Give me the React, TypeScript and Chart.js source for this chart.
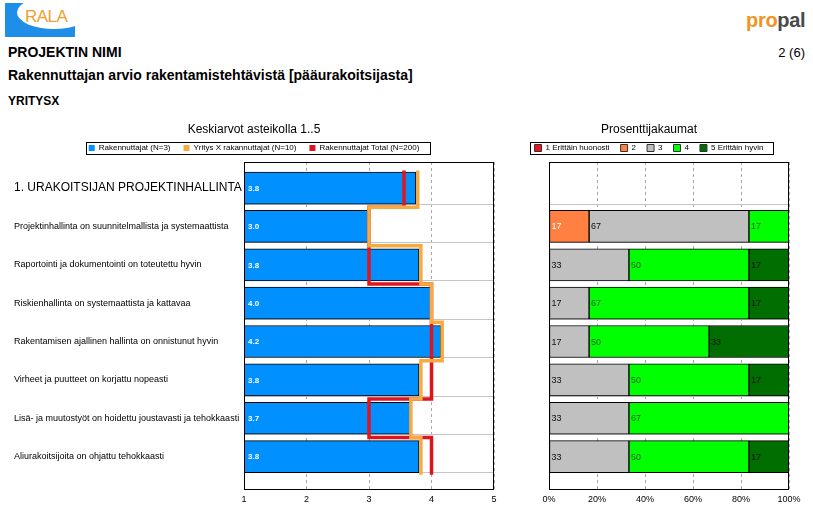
import React, { useEffect, useRef } from "react";
import { Chart, registerables } from "chart.js";

Chart.register(...registerables);

const FONT = "'Liberation Sans', Arial, Helvetica, sans-serif";
Chart.defaults.font.family = FONT;
Chart.defaults.color = "#000";

// ---------------- data ----------------
const categories = [
  "1. URAKOITSIJAN PROJEKTINHALLINTA",
  "Projektinhallinta on suunnitelmallista ja systemaattista",
  "Raportointi ja dokumentointi on toteutettu hyvin",
  "Riskienhallinta on systemaattista ja kattavaa",
  "Rakentamisen ajallinen hallinta on onnistunut hyvin",
  "Virheet ja puutteet on korjattu nopeasti",
  "Lisä- ja muutostyöt on hoidettu joustavasti ja tehokkaasti",
  "Aliurakoitsijoita on ohjattu tehokkaasti",
];

const meanSeriesLabels = [
  "Rakennuttajat (N=3)",
  "Yritys X rakannuttajat (N=10)",
  "Rakennuttajat Total (N=200)",
];
const rakennuttajat = [3.75, 3.0, 3.8, 4.0, 4.15, 3.8, 3.67, 3.8];
const yritysX = [3.78, 3.0, 3.83, 4.0, 4.17, 3.83, 3.67, 3.83];
const rakennuttajatTotal = [3.56, 3.0, 3.0, 4.0, 4.0, 4.0, 3.0, 4.0];
const meanTicks = [1, 2, 3, 4, 5];

const pctSeriesLabels = ["1 Erittäin huonosti", "2", "3", "4", "5 Erittäin hyvin"];
const pct1: (number | null)[] = [null, null, null, null, null, null, null, null];
const pct2: (number | null)[] = [null, 16.7, null, null, null, null, null, null];
const pct3: (number | null)[] = [null, 66.6, 33.3, 16.7, 16.7, 33.3, 33.3, 33.3];
const pct4: (number | null)[] = [null, 16.7, 50, 66.6, 50, 50, 66.7, 50];
const pct5: (number | null)[] = [null, null, 16.7, 16.7, 33.3, 16.7, null, 16.7];
const pctTicks = [0, 20, 40, 60, 80, 100];

// ---------------- styles ----------------
const meanColors = ["#0090FF", "#F8A940", "#E0141E"];
const pctColors = ["#E8141E", "#FF8040", "#C0C0C0", "#00FF00", "#006E00"];
const pctLabelColors = ["#FFFFFF", "#FFFFFF", "#111111", "#1E5A1E", "#111111"];

const ROW_MIN = -0.68;
const ROW_MAX = 7.87;
const GRID_OFFSET = 0.42;
const BAR_PX = 32;

function stepPoints(values: number[]) {
  const pts: { x: number; y: number }[] = [];
  values.forEach((v, i) => {
    const top = i === 0 ? -0.46 : i - 0.5;
    const bottom = i === values.length - 1 ? i + 0.47 : i + 0.5;
    pts.push({ x: v, y: top }, { x: v, y: bottom });
  });
  return pts;
}

function rowAxis(showLabels: boolean, width: number): any {
  return {
    type: "linear",
    reverse: true,
    offset: false,
    min: ROW_MIN,
    max: ROW_MAX,
    afterBuildTicks: (axis: any) => {
      const t: { value: number }[] = [];
      categories.forEach((_, i) => {
        t.push({ value: i });
        t.push({ value: i + GRID_OFFSET });
      });
      axis.ticks = t;
    },
    afterFit: (axis: any) => {
      axis.width = width;
    },
    grid: {
      offset: false,
      drawTicks: false,
      lineWidth: 1,
      color: (ctx: any) =>
        ctx.tick && Number.isInteger(ctx.tick.value) ? "rgba(0,0,0,0)" : "#C4C4C4",
    },
    border: { display: false },
    ticks: {
      display: showLabels,
      autoSkip: false,
      padding: 0,
      crossAlign: "far",
      color: "#000",
      font: (ctx: any) => ({
        family: FONT,
        size: ctx.tick && ctx.tick.value === 0 ? 12 : 9,
      }),
      callback: (v: number) => (Number.isInteger(v) ? categories[v] : ""),
    },
  };
}

const framePlugin = {
  id: "frame",
  afterDatasetsDraw(chart: any) {
    const { ctx, chartArea } = chart;
    const l = Math.round(chartArea.left) + 0.5;
    const t = Math.round(chartArea.top) + 0.5;
    const r = Math.round(chartArea.right) - 0.5;
    const b = Math.round(chartArea.bottom) - 0.5;
    ctx.save();
    ctx.strokeStyle = "#000";
    ctx.lineWidth = 1;
    ctx.strokeRect(l, t, r - l, b - t);
    ctx.restore();
  },
};

const legendFramePlugin = {
  id: "legendFrame",
  afterDraw(chart: any, _args: any, opts: any) {
    const hb = chart.legend && chart.legend.legendHitBoxes;
    if (!hb || !hb.length) return;
    const first = hb[0];
    const last = hb[hb.length - 1];
    const cy = first.top + first.height / 2;
    const x1 = Math.round(first.left - opts.padLeft) + 0.5;
    const x2 = Math.round(last.left + last.width + opts.padRight) + 0.5;
    const y1 = Math.round(cy - 6) + 0.5;
    const { ctx } = chart;
    ctx.save();
    ctx.strokeStyle = "#000";
    ctx.lineWidth = 1;
    ctx.strokeRect(x1, y1, x2 - x1, 12);
    ctx.restore();
  },
};

const meanLabelPlugin = {
  id: "meanLabels",
  afterDatasetsDraw(chart: any) {
    const meta = chart.getDatasetMeta(0);
    const { ctx, chartArea } = chart;
    ctx.save();
    ctx.font = `bold 8px ${FONT}`;
    ctx.fillStyle = "#FFFFFF";
    ctx.textBaseline = "middle";
    ctx.textAlign = "left";
    meta.data.forEach((el: any, i: number) => {
      const start = Math.max(Math.min(el.base, el.x), chartArea.left);
      ctx.fillText(rakennuttajat[i].toFixed(1), start + 4, el.y + 0.5);
    });
    ctx.restore();
  },
};

const pctLabelPlugin = {
  id: "pctLabels",
  afterDatasetsDraw(chart: any) {
    const { ctx, chartArea } = chart;
    ctx.save();
    ctx.font = `9px ${FONT}`;
    ctx.textBaseline = "middle";
    ctx.textAlign = "left";
    chart.data.datasets.forEach((ds: any, k: number) => {
      const meta = chart.getDatasetMeta(k);
      ctx.fillStyle = pctLabelColors[k];
      meta.data.forEach((el: any, j: number) => {
        const raw = ds.data[j];
        if (!raw) return;
        const start = Math.max(Math.min(el.base, el.x), chartArea.left);
        ctx.fillText(String(Math.round(raw.x)), start + 2, el.y + 0.5);
      });
    });
    ctx.restore();
  },
};

function buildMeanConfig(): any {
  return {
    type: "bar",
    data: {
      datasets: [
        {
          type: "bar",
          label: meanSeriesLabels[0],
          data: rakennuttajat.map((v, i) => ({ x: v, y: i })),
          backgroundColor: meanColors[0],
          borderColor: "#000",
          borderWidth: 1,
          borderSkipped: false,
          barThickness: BAR_PX,
          order: 3,
        },
        {
          type: "line",
          label: meanSeriesLabels[1],
          data: stepPoints(yritysX),
          borderColor: meanColors[1],
          backgroundColor: meanColors[1],
          borderWidth: 3.5,
          pointRadius: 0,
          tension: 0,
          fill: false,
          borderJoinStyle: "miter",
          order: 1,
        },
        {
          type: "line",
          label: meanSeriesLabels[2],
          data: stepPoints(rakennuttajatTotal),
          borderColor: meanColors[2],
          backgroundColor: meanColors[2],
          borderWidth: 3.5,
          pointRadius: 0,
          tension: 0,
          fill: false,
          borderJoinStyle: "miter",
          order: 2,
        },
      ],
    },
    options: {
      animation: false,
      responsive: false,
      events: [],
      indexAxis: "y",
      layout: { padding: { left: 14, right: 16, top: 0, bottom: 10 } },
      plugins: {
        title: {
          display: true,
          text: "Keskiarvot asteikolla 1..5",
          color: "#000",
          font: { size: 12, weight: "normal", family: FONT },
          padding: { top: 7.8, bottom: -6.2 },
        },
        legend: {
          display: true,
          position: "top",
          maxHeight: 33,
          labels: {
            boxWidth: 6,
            boxHeight: 6,
            padding: 13,
            color: "#000",
            font: { size: 8, family: FONT },
            generateLabels: (chart: any) =>
              chart.data.datasets.map((ds: any, i: number) => ({
                text: ds.label,
                fillStyle: meanColors[i],
                strokeStyle: meanColors[i],
                lineWidth: 0,
                hidden: false,
                datasetIndex: i,
              })),
          },
        },
        tooltip: { enabled: false },
        legendFrame: { padLeft: 3, padRight: 11 },
      },
      scales: {
        x: {
          type: "linear",
          beginAtZero: false,
          min: meanTicks[0],
          max: meanTicks[meanTicks.length - 1],
          afterBuildTicks: (axis: any) => {
            axis.ticks = meanTicks.map((v) => ({ value: v }));
          },
          afterFit: (axis: any) => {
            axis.height = 20;
          },
          grid: { drawTicks: false, color: "#A8A8A8", lineWidth: 1 },
          border: { display: false, dash: [3, 3] },
          ticks: { padding: 4, color: "#000", font: { size: 9, family: FONT } },
        },
        y: rowAxis(true, 230),
      },
    },
    plugins: [framePlugin, legendFramePlugin, meanLabelPlugin],
  };
}

function buildPctConfig(): any {
  const series = [pct1, pct2, pct3, pct4, pct5];
  return {
    type: "bar",
    data: {
      datasets: series.map((arr, k) => ({
        label: pctSeriesLabels[k],
        data: arr
          .map((v, i) => (v == null ? null : { x: v, y: i }))
          .filter((p) => p !== null),
        backgroundColor: pctColors[k],
        borderColor: "#000",
        borderWidth: 1,
        borderSkipped: false,
        barThickness: BAR_PX,
      })),
    },
    options: {
      animation: false,
      responsive: false,
      events: [],
      indexAxis: "y",
      layout: { padding: { left: 0, right: 24, top: 0, bottom: 10 } },
      plugins: {
        title: {
          display: true,
          text: "Prosenttijakaumat",
          color: "#000",
          font: { size: 12, weight: "normal", family: FONT },
          padding: { top: 7.8, bottom: -4.2 },
        },
        legend: {
          display: true,
          position: "top",
          maxHeight: 31,
          labels: {
            boxWidth: 7,
            boxHeight: 7,
            padding: 11,
            color: "#000",
            font: { size: 8, family: FONT },
            generateLabels: (chart: any) =>
              chart.data.datasets.map((ds: any, i: number) => ({
                text: ds.label,
                fillStyle: pctColors[i],
                strokeStyle: "#333333",
                lineWidth: 1,
                hidden: false,
                datasetIndex: i,
              })),
          },
        },
        tooltip: { enabled: false },
        legendFrame: { padLeft: 4.5, padRight: 10 },
      },
      scales: {
        x: {
          type: "linear",
          stacked: true,
          min: pctTicks[0],
          max: pctTicks[pctTicks.length - 1],
          afterBuildTicks: (axis: any) => {
            axis.ticks = pctTicks.map((v) => ({ value: v }));
          },
          afterFit: (axis: any) => {
            axis.height = 20;
          },
          grid: { drawTicks: false, color: "#A8A8A8", lineWidth: 1 },
          border: { display: false, dash: [3, 3] },
          ticks: {
            padding: 4,
            color: "#000",
            font: { size: 9, family: FONT },
            callback: (v: number) => `${v}%`,
          },
        },
        y: { ...rowAxis(false, 40), stacked: true },
      },
    },
    plugins: [framePlugin, legendFramePlugin, pctLabelPlugin],
  };
}

function ChartCanvas(props: {
  left: number;
  top: number;
  width: number;
  height: number;
  build: () => any;
}) {
  const ref = useRef<HTMLCanvasElement>(null);
  useEffect(() => {
    const chart = new Chart(ref.current as HTMLCanvasElement, props.build());
    return () => chart.destroy();
  }, []);
  return (
    <canvas
      ref={ref}
      width={props.width}
      height={props.height}
      style={{
        position: "absolute",
        left: props.left,
        top: props.top,
        width: props.width,
        height: props.height,
      }}
    />
  );
}

function RalaLogo() {
  return (
    <div
      style={{
        position: "absolute",
        left: 5,
        top: 3,
        width: 70,
        height: 34,
        background: "#1E8EE6",
        overflow: "hidden",
      }}
    >
      <div
        style={{
          position: "absolute",
          left: 12,
          top: -7,
          width: 74,
          height: 33,
          borderRadius: "50%",
          background: "#FFFFFF",
        }}
      />
      <div
        style={{
          position: "absolute",
          left: 20,
          top: 5,
          fontSize: 17,
          lineHeight: "17px",
          color: "#F0A030",
          letterSpacing: -0.5,
        }}
      >
        RALA
      </div>
    </div>
  );
}

function PropalLogo() {
  return (
    <div
      style={{
        position: "absolute",
        left: 746,
        top: 9,
        fontSize: 20,
        fontWeight: "bold",
        lineHeight: "22px",
        letterSpacing: -0.3,
        whiteSpace: "nowrap",
      }}
    >
      <span style={{ color: "#F39325" }}>pr</span>
      <span style={{ color: "#F39325" }}>o</span>
      <span style={{ color: "#4A4A4A" }}>pal</span>
    </div>
  );
}

export default function App() {
  return (
    <div
      style={{
        position: "absolute",
        left: 0,
        top: 0,
        width: 813,
        height: 520,
        background: "#FFFFFF",
        fontFamily: FONT,
        color: "#000",
        overflow: "hidden",
      }}
    >
      <RalaLogo />
      <PropalLogo />
      <div
        style={{
          position: "absolute",
          left: 8,
          top: 44.7,
          fontSize: 14,
          lineHeight: "14px",
          fontWeight: "bold",
          whiteSpace: "nowrap",
        }}
      >
        PROJEKTIN NIMI
      </div>
      <div
        style={{
          position: "absolute",
          right: 8,
          top: 45.6,
          fontSize: 13,
          lineHeight: "13px",
          whiteSpace: "nowrap",
        }}
      >
        2 (6)
      </div>
      <div
        style={{
          position: "absolute",
          left: 8,
          top: 68.2,
          fontSize: 14,
          lineHeight: "14px",
          fontWeight: "bold",
          whiteSpace: "nowrap",
        }}
      >
        Rakennuttajan arvio rakentamistehtävistä [pääurakoitsijasta]
      </div>
      <div
        style={{
          position: "absolute",
          left: 8,
          top: 95.1,
          fontSize: 12,
          lineHeight: "12px",
          fontWeight: "bold",
          whiteSpace: "nowrap",
        }}
      >
        YRITYSX
      </div>
      <ChartCanvas left={0} top={115} width={510} height={405} build={buildMeanConfig} />
      <ChartCanvas left={509} top={115} width={304} height={405} build={buildPctConfig} />
    </div>
  );
}
